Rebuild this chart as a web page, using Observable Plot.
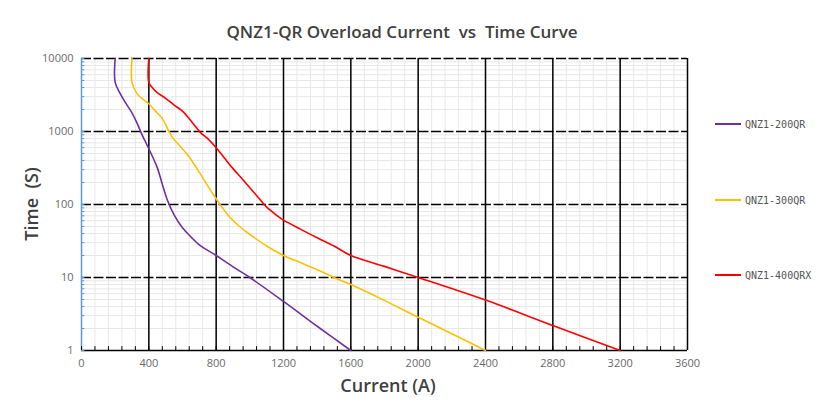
<!DOCTYPE html>
<html>
<head>
<meta charset="utf-8">
<script src="https://cdn.jsdelivr.net/npm/d3@7"></script>
<script src="https://cdn.jsdelivr.net/npm/@observablehq/plot@0.6"></script>
<style>
  html, body { margin: 0; padding: 0; background: #fff; }
  #wrap { position: relative; width: 822px; height: 414px; font-family: "Open Sans", sans-serif; overflow: hidden; }
  #wrap svg text { white-space: pre; }
  .title { position: absolute; left: 402px; top: 20px; transform: translateX(-50%); font-size: 17px; font-weight: 600; color: #404040; white-space: pre; line-height: 24px; }
  .xlabel { position: absolute; left: 388px; top: 373px; transform: translateX(-50%); font-size: 18px; font-weight: 600; color: #404040; white-space: pre; line-height: 24px; }
  .ylabel { position: absolute; left: 31px; top: 204px; transform: translate(-50%, -50%) rotate(-90deg); font-size: 18px; font-weight: 600; color: #404040; white-space: pre; line-height: 24px; }
  .legend { position: absolute; left: 715px; font-family: "DejaVu Sans Mono", monospace; font-size: 10px; color: #555; display: flex; align-items: center; height: 14px; }
  .legend span.sw { display: inline-block; width: 26px; height: 2px; margin-right: 4px; }
</style>
</head>
<body>
<div id="wrap"></div>
<script>
// ---- data ----
const models = ["QNZ1-200QR", "QNZ1-300QR", "QNZ1-400QRX"];
const colors = ["#7030a0", "#ffc000", "#ff0000"];

const current200 = [200, 200, 230, 260, 300, 330, 360, 400, 450, 480, 510, 550, 600, 650, 700, 800, 900, 1000, 1200, 1400, 1600];
const time200    = [10000, 4700, 3300, 2500, 1800, 1300, 900, 580, 320, 190, 115, 72, 48, 36, 28, 20, 14, 10, 4.7, 2.15, 1];

const current300 = [300, 300, 330, 370, 400, 440, 480, 520, 540, 580, 630, 690, 750, 800, 830, 870, 930, 1000, 1100, 1200, 1300, 1400, 1500, 1600, 1780, 2000, 2200, 2400];
const time300    = [10000, 4700, 3300, 2700, 2400, 1900, 1500, 1000, 830, 650, 480, 300, 180, 120, 95, 72, 52, 39, 27, 20, 16, 12.8, 10, 8, 5.1, 2.85, 1.7, 1];

const current400 = [400, 400, 420, 450, 500, 550, 600, 640, 680, 710, 750, 800, 850, 900, 950, 1000, 1050, 1100, 1150, 1200, 1300, 1400, 1500, 1600, 1800, 2000, 2400, 2800, 3200];
const time400    = [10000, 4700, 4000, 3400, 2850, 2300, 1900, 1500, 1150, 950, 800, 600, 430, 310, 230, 170, 125, 92, 74, 61, 46, 35, 27, 20, 14.2, 10, 4.9, 2.2, 1];

const xTicks = [0, 400, 800, 1200, 1600, 2000, 2400, 2800, 3200, 3600];
const yTicks = [1, 10, 100, 1000, 10000];

// ---- build table ----
const series = [
  {model: models[0], current: current200, time: time200},
  {model: models[1], current: current300, time: time300},
  {model: models[2], current: current400, time: time400}
];
const rows = series.flatMap(s => s.current.map((c, i) => ({model: s.model, current: c, time: s.time[i]})));

const xMinor = d3.range(0, 3601, 80);
const yMinor = yTicks.slice(0, -1).flatMap(d => d3.range(2, 10).map(k => k * d));

const chart = Plot.plot({
  width: 822,
  height: 414,
  marginLeft: 81,
  marginRight: 135,
  marginTop: 58,
  marginBottom: 64,
  style: {background: "transparent", fontFamily: "Open Sans, sans-serif", overflow: "visible"},
  x: {domain: [0, 3600]},
  y: {type: "log", domain: [1, 10000]},
  color: {domain: models, range: colors},
  marks: [
    // minor grid
    Plot.ruleX(xMinor, {stroke: "#e8e8e8", strokeWidth: 1}),
    Plot.ruleY(yMinor, {stroke: "#e8e8e8", strokeWidth: 1}),
    // major grid
    Plot.ruleX(xTicks.filter(d => d > 0), {stroke: "#000", strokeWidth: 1.5}),
    Plot.ruleY(yTicks.filter(d => d > 1), {stroke: "#000", strokeWidth: 1.5, strokeDasharray: "10,2.5"}),
    // axis lines
    Plot.ruleY([1], {stroke: "#000", strokeWidth: 1.5}),
    Plot.ruleX([0], {stroke: "#5b9bd5", strokeWidth: 1.5}),
    // small tick marks
    Plot.ruleX(xMinor, {y1: 1, y2: 1.13, stroke: "#000", strokeWidth: 1}),
    Plot.ruleY([...yMinor, ...yTicks], {x1: 0, x2: 20, stroke: "#5b9bd5", strokeWidth: 1}),
    // curves
    Plot.line(rows, {x: "current", y: "time", z: "model", stroke: "model", strokeWidth: 1.6, curve: "catmull-rom"}),
    // tick labels
    Plot.axisX(xTicks, {tickSize: 0, tickPadding: 9, fontSize: 11, fill: "#6a6a6a", label: null, tickFormat: d => String(d)}),
    Plot.axisY(yTicks, {tickSize: 0, tickPadding: 8, fontSize: 11, fill: "#6a6a6a", label: null, tickFormat: d => String(d)})
  ]
});

const wrap = document.getElementById("wrap");
wrap.appendChild(chart);

const title = document.createElement("div");
title.className = "title";
title.textContent = "QNZ1-QR Overload Current  vs  Time Curve";
wrap.appendChild(title);

const xl = document.createElement("div");
xl.className = "xlabel";
xl.textContent = "Current (A)";
wrap.appendChild(xl);

const yl = document.createElement("div");
yl.className = "ylabel";
yl.textContent = "Time  (S)";
wrap.appendChild(yl);

const legendTops = [117, 193, 268];
models.forEach((m, i) => {
  const d = document.createElement("div");
  d.className = "legend";
  d.style.top = legendTops[i] + "px";
  const sw = document.createElement("span");
  sw.className = "sw";
  sw.style.background = colors[i];
  d.appendChild(sw);
  d.appendChild(document.createTextNode(m));
  wrap.appendChild(d);
});
</script>
</body>
</html>
